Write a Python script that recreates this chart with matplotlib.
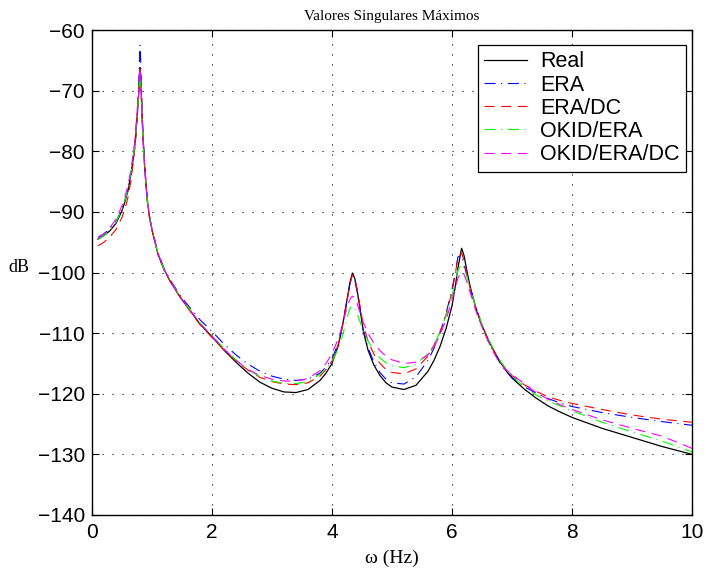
import matplotlib
matplotlib.use("Agg")
import matplotlib.pyplot as plt

freq_hz = [0.1, 0.2, 0.3, 0.4, 0.5, 0.55, 0.6, 0.65, 0.7, 0.73, 0.76, 0.78, 0.8, 0.81, 0.83, 0.85,
           0.88, 0.92, 0.96, 1.0,
           1.1, 1.2, 1.3, 1.4, 1.5, 1.6, 1.8, 2.0, 2.2, 2.4, 2.6, 2.8, 3.0, 3.2, 3.4, 3.6, 3.8,
           3.9, 4.0,
           4.1, 4.15, 4.2, 4.25, 4.3, 4.34, 4.38, 4.42, 4.47, 4.52, 4.6, 4.7, 4.8, 4.9, 5.0,
           5.2, 5.4, 5.6, 5.7, 5.8, 5.9, 6.0, 6.05, 6.1, 6.16, 6.2, 6.25, 6.3, 6.4, 6.5, 6.6,
           6.7, 6.8, 6.9, 7.0,
           7.2, 7.4, 7.6, 7.8, 8.0, 8.5, 9.0, 9.5, 10.0]

real_db = [-94.5, -93.9, -93.1, -91.9, -89.8, -88.3, -86.5, -83.8, -80.3, -77.3, -73.3, -70.3,
           -66.2, -67.2, -73.0, -78.0, -83.0, -88.0, -91.0, -93.0,
           -97.0, -99.5, -101.4, -103.0, -104.5, -105.8, -108.5, -110.6, -112.8, -114.8, -116.6,
           -118.1, -119.1, -119.7, -119.8, -119.3, -117.8, -116.6, -115.0,
           -112.2, -110.0, -107.4, -104.5, -101.6, -100.1, -101.0, -103.0, -106.2, -109.6,
           -112.8, -115.3, -117.0, -118.2, -118.9,
           -119.3, -118.6, -116.3, -114.5, -112.2, -109.3, -105.5, -102.6, -99.2, -96.0, -97.2,
           -99.8, -102.2, -105.9, -108.7, -111.0, -113.0, -114.7, -116.2, -117.4,
           -119.2, -120.7, -122.0, -123.0, -123.9, -125.7, -127.2, -128.7, -130.0]

era_db = [-94.2, -93.6, -92.8, -91.6, -89.5, -88.0, -86.3, -83.6, -80.0, -76.8, -72.5, -68.5,
          -62.5, -64.5, -71.5, -77.0, -82.5, -87.7, -90.8, -92.8,
          -96.8, -99.3, -101.2, -102.7, -104.2, -105.4, -107.8, -109.7, -111.8, -113.6, -115.1,
          -116.3, -117.1, -117.6, -117.8, -117.6, -116.6, -115.6, -114.2,
          -111.8, -109.8, -107.4, -104.6, -101.8, -100.4, -101.2, -103.2, -106.2, -109.4,
          -112.4, -114.8, -116.5, -117.6, -118.2,
          -118.4, -117.2, -114.5, -112.5, -110.0, -106.8, -102.8, -100.2, -97.4, -97.3, -98.6,
          -100.6, -102.6, -106.0, -108.8, -111.2, -113.2, -114.9, -116.3, -117.3,
          -118.8, -119.9, -120.8, -121.5, -122.1, -123.1, -123.9, -124.6, -125.2]

era_dc_db = [-95.6, -95.0, -94.1, -92.9, -90.9, -89.5, -87.6, -84.8, -81.0, -77.8, -73.5, -70.3,
             -66.4, -67.5, -73.0, -78.0, -83.0, -88.0, -91.0, -93.0,
             -97.0, -99.6, -101.4, -103.0, -104.5, -105.9, -108.6, -110.7, -112.8, -114.6,
             -116.1, -117.3, -118.0, -118.4, -118.5, -118.2, -117.1, -116.0, -114.6,
             -112.0, -110.0, -107.6, -104.7, -101.9, -100.4, -101.0, -102.8, -105.7, -108.6,
             -111.3, -113.5, -115.0, -116.0, -116.5,
             -116.7, -115.9, -113.8, -112.0, -109.8, -107.0, -103.2, -100.5, -97.5, -96.8,
             -98.0, -100.3, -102.5, -106.0, -108.7, -111.0, -112.9, -114.6, -115.9, -117.0,
             -118.5, -119.6, -120.5, -121.1, -121.6, -122.6, -123.5, -124.2, -124.7]

okid_era_db = [-94.5, -93.9, -93.0, -91.7, -89.6, -88.1, -86.3, -83.6, -80.0, -77.0, -73.0,
               -70.3, -66.8, -67.8, -73.3, -78.3, -83.2, -88.0, -91.0, -93.0,
               -97.0, -99.5, -101.3, -102.9, -104.4, -105.7, -108.3, -110.4, -112.5, -114.4,
               -116.0, -117.2, -117.9, -118.3, -118.3, -118.0, -116.8, -115.9, -114.6,
               -112.7, -111.3, -109.5, -107.5, -105.9, -105.5, -105.8, -106.8, -108.2, -109.6,
               -111.3, -112.9, -114.1, -114.9, -115.4,
               -115.7, -115.1, -113.4, -111.9, -109.8, -107.2, -103.8, -101.6, -99.6, -98.6,
               -99.2, -100.8, -102.6, -105.8, -108.5, -110.8, -112.8, -114.5, -115.9, -117.0,
               -118.9, -120.2, -121.2, -122.0, -122.8, -124.7, -126.3, -127.8, -129.6]

okid_era_dc_db = [-94.4, -93.6, -92.6, -91.2, -89.0, -87.5, -85.6, -83.0, -79.5, -76.5, -72.6,
                  -70.0, -66.3, -67.3, -72.8, -77.8, -82.8, -87.8, -90.8, -92.8,
                  -96.8, -99.4, -101.3, -102.9, -104.4, -105.7, -108.4, -110.5, -112.6, -114.5,
                  -116.0, -117.0, -117.6, -117.9, -117.9, -117.5, -116.2, -115.0, -113.4,
                  -111.0, -109.5, -107.7, -105.8, -104.4, -103.9, -104.2, -105.2, -106.7,
                  -108.2, -110.0, -111.7, -112.9, -113.8, -114.4,
                  -115.0, -114.8, -113.6, -112.3, -110.3, -107.8, -104.6, -102.7, -100.9,
                  -99.9, -100.3, -101.6, -103.2, -106.4, -109.0, -111.3, -113.3, -115.0,
                  -116.0, -116.8,
                  -118.3, -119.8, -120.9, -121.8, -122.6, -124.3, -125.7, -127.0, -129.0]

series_labels = ["Real", "ERA", "ERA/DC", "OKID/ERA", "OKID/ERA/DC"]
x_ticks = [0, 2, 4, 6, 8, 10]
y_ticks = [-140, -130, -120, -110, -100, -90, -80, -70, -60]

sans = "Liberation Sans"
serif = "Liberation Serif"

fig = plt.figure(figsize=(7.06, 5.72), dpi=100)
ax = fig.add_axes([92 / 706, 1 - 515 / 572, 600 / 706, 485 / 572])

dashdot = (0, (10, 5, 1, 5))
dashed = (0, (9, 6))
styles = [
    dict(color="black", linestyle="-", lw=0.9),
    dict(color=(0, 0, 1), linestyle=dashdot, lw=0.8),
    dict(color=(1, 0, 0), linestyle=dashed, lw=0.8),
    dict(color=(0, 1, 0), linestyle=dashdot, lw=0.8),
    dict(color=(1, 0, 1), linestyle=dashed, lw=0.8),
]
all_series = [real_db, era_db, era_dc_db, okid_era_db, okid_era_dc_db]
for ys, lab, st in zip(all_series, series_labels, styles):
    ax.plot(freq_hz, ys, label=lab, **st)

ax.set_xlim(0, 10)
ax.set_ylim(-140, -60)
ax.set_xticks(x_ticks)
ax.set_yticks(y_ticks)
ax.set_xticklabels([str(v) for v in x_ticks], family=sans, fontsize=15)
ax.set_yticklabels(["\u2212" + str(-v) for v in y_ticks], family=sans, fontsize=15)
ax.tick_params(axis="x", direction="in", top=True, length=5, width=0.8, pad=6)
ax.tick_params(axis="y", direction="in", right=True, length=5, width=0.8, pad=5)
ax.grid(True, color="black", linestyle=(0, (1, 8)), lw=0.8)
for sp in ax.spines.values():
    sp.set_linewidth(1.0)

ax.set_title("Valores Singulares Máximos", family=serif, fontsize=11, pad=7)
ax.set_xlabel("ω (Hz)", family=serif, fontsize=14, labelpad=5)
fig.text(8 / 706, 1 - 267 / 572, "dB", family=serif, fontsize=13, ha="left", va="center")

leg = ax.legend(loc="upper right", prop={"family": sans, "size": 15.5}, fancybox=False,
                framealpha=1, edgecolor="black", borderpad=0.3, labelspacing=0.1,
                handlelength=2.0, handletextpad=0.6, borderaxespad=0.0,
                bbox_to_anchor=(0.99, 0.969))
leg.get_frame().set_linewidth(0.9)

fig.savefig("out.png", dpi=100)
